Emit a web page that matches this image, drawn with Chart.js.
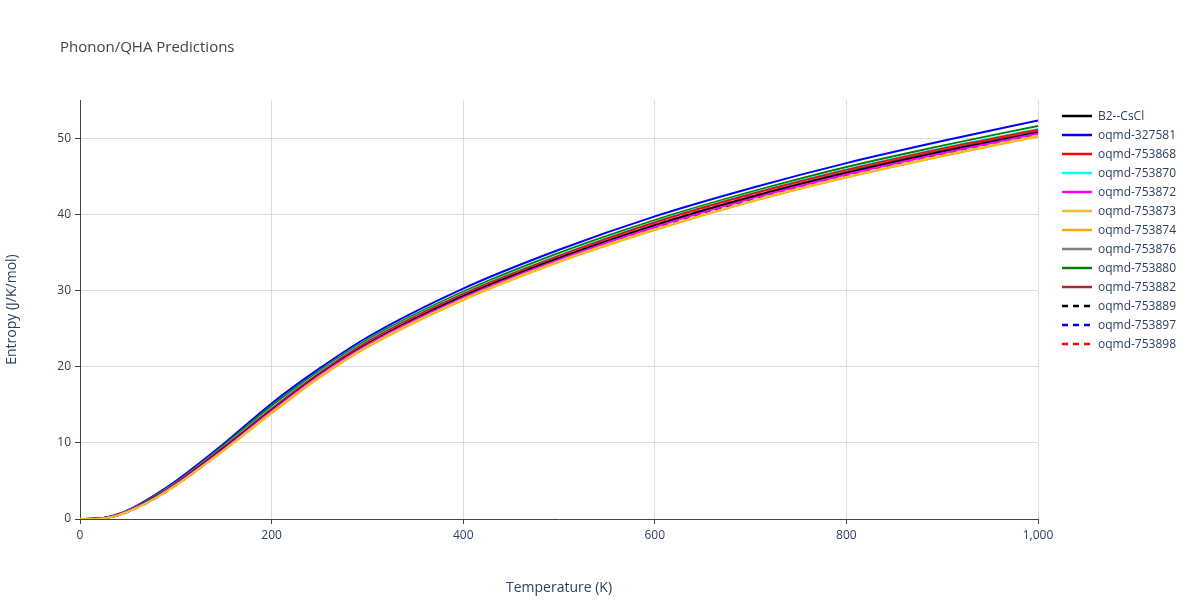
<!DOCTYPE html><html><head><script src="https://cdn.jsdelivr.net/npm/chart.js@4"></script>
<style>body{margin:0;background:#fff;font-family:"Open Sans",sans-serif}#w{position:relative;width:1200px;height:600px}
#t{position:absolute;left:60px;top:36px;font-size:15px;color:#444}
#lg{position:absolute;left:1062px;top:106px;font-size:12px;color:#2a3f5f}
.it{height:19px;display:flex;align-items:center}.it svg{margin-right:6px}</style></head><body>
<div id="w"><canvas id="c" width="1200" height="600"></canvas><div id="t">Phonon/QHA Predictions</div><div id="lg"></div></div>
<script>
const temps=[0,20,40,60,80,100,150,200,250,300,400,500,600,700,800,900,1000];
const names=["B2--CsCl","oqmd-327581","oqmd-753868","oqmd-753870","oqmd-753872","oqmd-753873","oqmd-753874","oqmd-753876","oqmd-753880","oqmd-753882","oqmd-753889","oqmd-753897","oqmd-753898"];
const colors=["#000000","#0000ff","#ff0000","#00ffff","#ff00ff","#f0c030","#ffa500","#808080","#008000","#a52a2a","#000000","#0000ff","#ff0000"];
const dashed=[false,false,false,false,false,false,false,false,false,false,true,true,true];
const s_B2=[0,0.05,0.55,1.6,3.0,4.6,9.3,14.3,19.0,23.0,29.3,34.3,38.6,42.3,45.5,48.3,50.8];
const s_327581=[0,0.06,0.65,1.8,3.3,5.0,9.9,15.2,19.8,23.9,30.3,35.4,39.8,43.5,46.8,49.7,52.4];
const s_753868=[0,0.05,0.57,1.65,3.05,4.7,9.45,14.5,19.2,23.3,29.6,34.6,39.0,42.7,45.9,48.7,51.2];
const s_753870=[0,0.05,0.58,1.66,3.08,4.72,9.5,14.6,19.3,23.4,29.7,34.7,39.1,42.8,46.0,48.8,51.3];
const s_753872=[0,0.05,0.54,1.58,2.95,4.55,9.2,14.2,18.9,22.9,29.1,34.1,38.4,42.1,45.3,48.1,50.7];
const s_753873=[0,0.04,0.51,1.52,2.85,4.45,9.05,14.0,18.7,22.7,28.9,33.9,38.1,41.8,45.0,47.8,50.4];
const s_753874=[0,0.04,0.5,1.5,2.8,4.4,9.0,13.9,18.6,22.6,28.8,33.8,38.0,41.7,44.9,47.7,50.3];
const s_753876=[0,0.05,0.55,1.61,3.01,4.62,9.33,14.35,19.05,23.1,29.4,34.4,38.7,42.4,45.7,48.5,51.0];
const s_753880=[0,0.06,0.6,1.7,3.2,4.8,9.7,14.9,19.5,23.6,29.9,35.0,39.3,43.0,46.3,49.1,51.7];
const s_753882=[0,0.05,0.55,1.6,3.0,4.6,9.32,14.33,19.03,23.05,29.35,34.35,38.65,42.35,45.65,48.45,51.0];
const s_753889=[0,0.04,0.5,1.5,2.82,4.42,9.05,14.0,18.7,22.7,28.95,33.95,38.2,41.9,45.1,47.9,50.5];
const s_753897=[0,0.05,0.55,1.6,3.0,4.6,9.3,14.3,19.0,23.05,29.35,34.35,38.7,42.4,45.6,48.4,50.9];
const s_753898=[0,0.05,0.56,1.62,3.02,4.63,9.35,14.37,19.07,23.1,29.4,34.4,38.75,42.45,45.7,48.5,51.0];
const series=[s_B2,s_327581,s_753868,s_753870,s_753872,s_753873,s_753874,s_753876,s_753880,s_753882,s_753889,s_753897,s_753898];
const xTicks=[0,200,400,600,800,1000], yTicks=[0,10,20,30,40,50];
const order=[5,6,4,10,0,9,7,12,11,2,3,8,1];
const ds=order.map(i=>({label:names[i],data:temps.map((t,k)=>({x:t,y:series[i][k]})),borderColor:colors[i],borderWidth:2,pointRadius:0,tension:0.4,cubicInterpolationMode:'monotone',fill:false,borderDash:dashed[i]?[6,5]:[]}));
const tf={family:"Open Sans",size:12},col='#2a3f5f';
new Chart(document.getElementById('c'),{type:'line',data:{datasets:ds},options:{responsive:false,animation:false,
layout:{padding:{top:100,right:162,left:0,bottom:0}},plugins:{legend:{display:false},tooltip:{enabled:false}},
scales:{x:{type:'linear',min:0,max:1000,afterBuildTicks:a=>{a.ticks=xTicks.map(v=>({value:v}))},afterFit:s=>{s.height=81},
grid:{color:'#dcdcdc',tickColor:'#444',tickLength:5,drawTicks:true},border:{color:'#444'},ticks:{color:col,font:tf,padding:4},
title:{display:true,text:'Temperature (K)',color:col,font:{family:"Open Sans",size:14}}},
y:{min:0,max:55.1,afterBuildTicks:a=>{a.ticks=yTicks.map(v=>({value:v}))},afterFit:s=>{s.width=80},
grid:{color:'#dcdcdc',tickColor:'#444',tickLength:5},border:{color:'#444'},ticks:{color:col,font:tf,padding:4},
title:{display:true,text:'Entropy (J/K/mol)',color:col,font:{family:"Open Sans",size:14}}}}}});
const lg=document.getElementById('lg');
names.forEach((n,i)=>{lg.innerHTML+=`<div class="it"><svg width="30" height="4"><line x1="0" y1="2" x2="30" y2="2" stroke="${colors[i]}" stroke-width="2.5" ${dashed[i]?'stroke-dasharray="6,5"':''}/></svg>${n}</div>`});
</script></body></html>
